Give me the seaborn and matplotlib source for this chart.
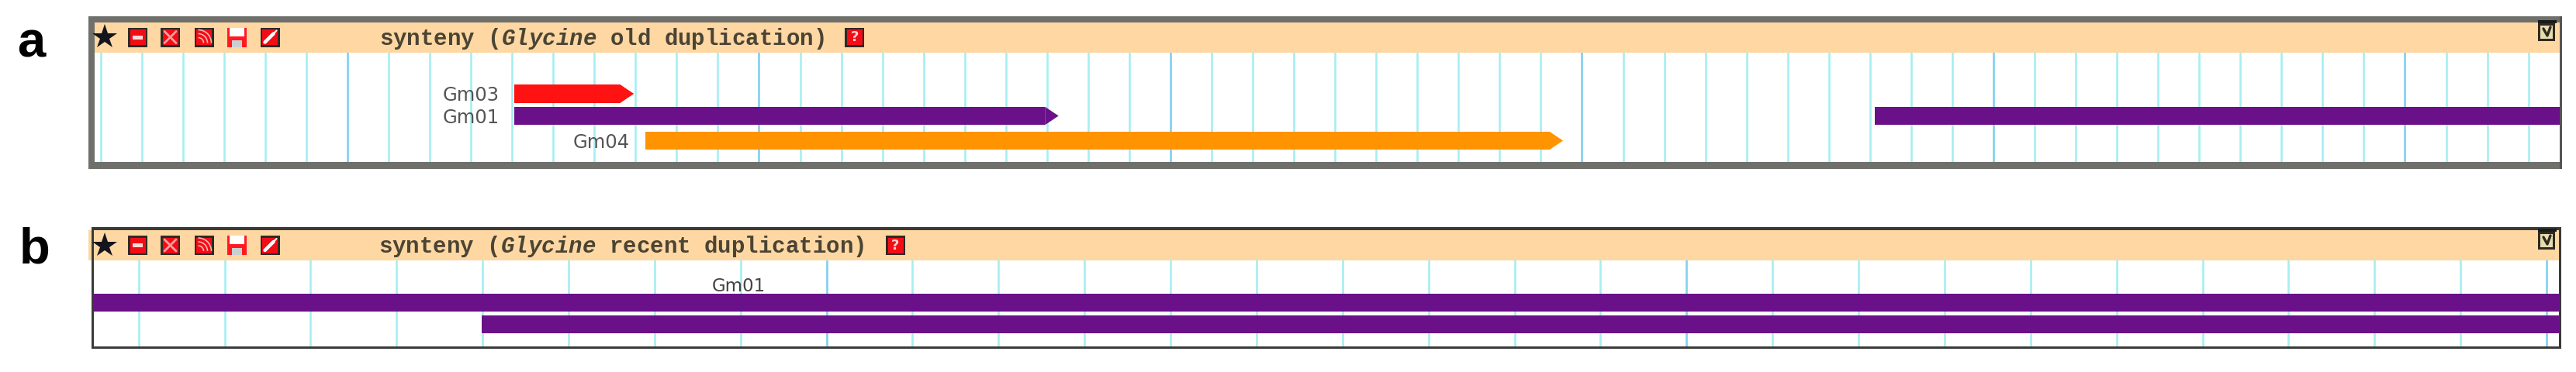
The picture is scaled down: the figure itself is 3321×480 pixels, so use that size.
import numpy as np
import pandas as pd
import seaborn as sns
import matplotlib.pyplot as plt
from matplotlib.patches import Rectangle, Arc

W, H = 3321, 480

# synteny blocks, old duplication (kb along the window)
names_a = ["Gm03", "Gm01", "Gm04", "Gm01"]
starts_a = [70.3, 70.3, 86.2, 235.6]
ends_a = [84.8, 136.4, 197.7, 330.0]
colors_a = ["#ff1212", "#6a1088", "#ff9400", "#6a1088"]
arrow_a = [True, True, True, False]
labels_a = [True, True, True, False]

# synteny blocks, recent duplication
names_b = ["Gm01", "Gm01"]
starts_b = [-5.0, 5.99]
ends_b = [40.0, 40.0]
colors_b = ["#6a1088", "#6a1088"]

titles = ["synteny ($\\mathit{Glycine}$ old duplication)",
          "synteny ($\\mathit{Glycine}$ recent duplication)"]

# layout in image pixels
ARROW_KB = 1.65
HEADER = "#fed7a3"
MINOR = "#a6eef2"
MAJOR = "#85d3f0"

sns.set_theme(style="white")
plt.rcParams["mathtext.fontset"] = "custom"
plt.rcParams["mathtext.it"] = "Liberation Mono:italic:bold"
plt.rcParams["mathtext.rm"] = "Liberation Mono:bold"

fig = plt.figure(figsize=(W / 100, H / 100), dpi=100, facecolor="white")


def panel_axes(x0, x1, y0, y1):
    ax = fig.add_axes([x0 / W, 1 - y1 / H, (x1 - x0) / W, (y1 - y0) / H])
    ax.set_facecolor("white")
    for s in ax.spines.values():
        s.set_visible(False)
    return ax


def style_grid(ax, xlim, height, minor_step, major_step):
    ax.set_xticks(np.arange(0, xlim[1] + 1, major_step))
    ax.set_xticks(np.arange(0, xlim[1] + 1, minor_step), minor=True)
    ax.set_xlim(*xlim)
    ax.set_ylim(height, 0)
    ax.grid(which="minor", axis="x", color=MINOR, lw=1.9, zorder=0)
    ax.grid(which="major", axis="x", color=MAJOR, lw=2.0, zorder=0)
    ax.grid(which="major", axis="y", visible=False)
    ax.tick_params(which="both", length=0, labelbottom=False, labelleft=False)
    ax.set_yticks([])
    ax.set_xlabel("")
    ax.set_ylabel("")
    ax.set_axisbelow(True)


def draw_block(ax, y, start, end, color, track_h, arrow):
    body_end = end - ARROW_KB if arrow else end
    df = pd.DataFrame({"len": [body_end - start], "row": [y]})
    sns.barplot(data=df, x="len", y="row", orient="y", native_scale=True, left=start,
                width=track_h, color=color, saturation=1, errorbar=None, linewidth=0, ax=ax)
    if arrow:
        ax.fill([body_end, end, body_end], [y - track_h / 2, y, y + track_h / 2],
                color=color, lw=0)


# panel a
ax_a = panel_axes(122, 3300, 67.5, 209)
track_y_a = [53.5, 82, 114, 82]
for y, s, e, c, arr in zip(track_y_a, starts_a, ends_a, colors_a, arrow_a):
    draw_block(ax_a, y, s, e, c, 23.5, arr)
style_grid(ax_a, ((122 - 448) / 53.05 * 5 + 50, (3300 - 448) / 53.05 * 5 + 50), 141.5, 5, 50)

# panel b
ax_b = panel_axes(120, 3299, 336, 447)
track_y_b = [54.5, 82.5]
for y, s, e, c in zip(track_y_b, starts_b, ends_b, colors_b):
    draw_block(ax_b, y, s, e, c, 23, False)
style_grid(ax_b, ((120 - 1065.6) / 110.87 + 10, (3299 - 1065.6) / 110.87 + 10), 111, 1, 10)

# everything around the tracks is drawn on a pixel overlay
ov = fig.add_axes([0, 0, 1, 1], facecolor="none")
ov.set_xlim(0, W)
ov.set_ylim(H, 0)
ov.axis("off")


def box(x0, y0, x1, y1, color, z=2, **kw):
    ov.add_patch(Rectangle((x0, y0), x1 - x0, y1 - y0, facecolor=color, lw=0, zorder=z, **kw))


def button(x, y, kind):
    box(x, y, x + 25, y + 25, "#2e2a28", z=3)
    box(x + 2.5, y + 2.5, x + 22.5, y + 22.5, "#f20d14", z=4)
    cx, cy = x + 12.5, y + 12.5
    if kind == "minus":
        box(x + 6, cy - 2.5, x + 19, cy + 2.5, "#ffd9d9", z=5)
    elif kind == "x":
        ov.plot([x + 5, x + 20], [y + 5, y + 20], color="#ff9a9a", lw=2, zorder=5)
        ov.plot([x + 5, x + 20], [y + 20, y + 5], color="#ff9a9a", lw=2, zorder=5)
    elif kind == "rss":
        for r in (7, 12, 17):
            ov.add_patch(Arc((x + 5, y + 20), 2 * r, 2 * r, theta1=270, theta2=360,
                             color="#ffb0b0", lw=1.2, zorder=5))
    elif kind == "wrench":
        ov.plot([x + 6, x + 17], [y + 19, y + 8], color="white", lw=3.2, zorder=5,
                solid_capstyle="round")
        ov.plot([x + 17, x + 21], [y + 8, y + 4], color="white", lw=1.5, zorder=5)
    elif kind == "help":
        ov.text(cx, cy, "?", color="#ffd0d0", fontsize=13, ha="center", va="center",
                family="DejaVu Sans", weight="bold", zorder=5)


def save_icon(x, y):
    box(x, y, x + 25, y + 25, "#ff1a22", z=3)
    box(x + 3, y, x + 22, y + 11, "white", z=4)
    box(x + 6, y + 16, x + 19, y + 25, "#c9cfd0", z=4)


def corner_icon(y):
    box(3272, y - 4, 3296, y, "#1a1a1a", z=5)
    box(3272, y, 3294, y + 23, "#2e2a20", z=5)
    box(3275, y + 3, 3291, y + 20, "#e6dcb0", z=6)
    ov.plot([3279, 3284, 3288], [y + 7, y + 16, y + 5], color="#2e2a20", lw=2.4, zorder=7)


def header_row(y0, y1, help_x, title_x, title):
    box(114, y0, 3300, y1, HEADER)
    icon_y = (y0 + y1) / 2 - 12.5
    ov.plot([135], [(y0 + y1) / 2], marker="*", ms=24, color="#14141e", mew=0, zorder=5)
    button(165, icon_y, "minus")
    button(207, icon_y, "x")
    button(250.5, icon_y, "rss")
    save_icon(293, icon_y)
    button(335.5, icon_y, "wrench")
    button(help_x, icon_y, "help")
    ov.text(title_x, (y0 + y1) / 2 + 2, title, fontsize=21, family="Liberation Mono",
            weight="bold", color="#4a4434", ha="left", va="center", zorder=5)


# frame a
box(114, 21, 3303, 28.5, "#6f6f6b", z=3)
box(114, 21, 122, 218, "#6f6f6b", z=3)
box(114, 209, 3303, 218, "#6f6f6b", z=3)
box(3300, 21, 3303, 218, "#555555", z=3)
header_row(28.5, 67.5, 1089, 489, titles[0])
corner_icon(30)

# frame b
box(118, 293, 3302, 297, "#3a3a38", z=3)
box(118, 293, 120.5, 450, "#3a3a38", z=3)
box(118, 447, 3302, 450, "#3a3a38", z=3)
box(3299, 293, 3302, 450, "#3a3a38", z=3)
header_row(297, 336, 1142, 488, titles[1])
corner_icon(299)

# block labels
label_right = [644, 644, 812]
label_y = [123, 152, 184]
for name, show, xr, yc in zip(names_a, labels_a, label_right, label_y):
    if show:
        ov.text(xr, yc, name, fontsize=17.5, family="DejaVu Sans", color="#555555",
                ha="right", va="center", zorder=5)
ov.text(952, 370, names_b[0], fontsize=16.5, family="DejaVu Sans", color="#444444",
        ha="center", va="center", zorder=5)

# panel letters
ov.text(22, 73, "a", fontsize=47, family="Liberation Sans", weight="bold", color="black",
        ha="left", va="baseline")
ov.text(25, 340, "b", fontsize=47, family="Liberation Sans", weight="bold", color="black",
        ha="left", va="baseline")

fig.savefig("out.png", dpi=100)
